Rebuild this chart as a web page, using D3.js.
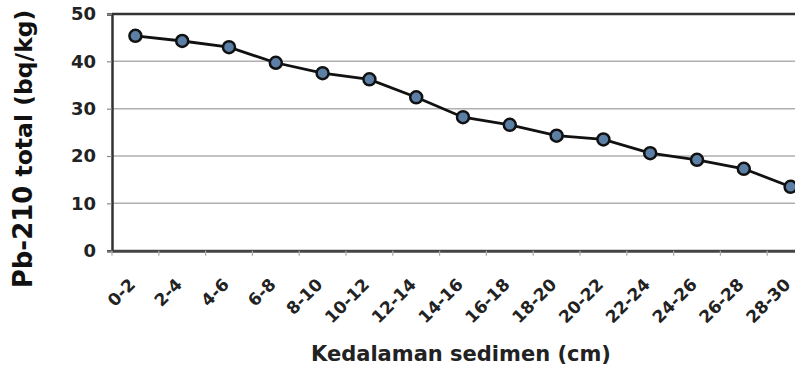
<!DOCTYPE html>
<html><head><meta charset="utf-8">
<script src="https://cdn.jsdelivr.net/npm/d3@7"></script>
<style>body{margin:0;background:#fff}svg{display:block}</style>
</head><body><svg id="c" width="795" height="370"></svg>
<script>
const categories = ["0-2","2-4","4-6","6-8","8-10","10-12","12-14","14-16","16-18","18-20","20-22","22-24","24-26","26-28","28-30"];
const values = [45.4,44.3,43.0,39.7,37.5,36.2,32.4,28.2,26.6,24.3,23.5,20.6,19.2,17.3,13.5];
const yTicks = [0,10,20,30,40,50];

const svg = d3.select("#c");
const L = 112, R = 814, T = 14, B = 250.7;
const font = "'DejaVu Sans', Verdana, sans-serif";
const x = d3.scaleBand().domain(categories).range([L, R]);
const y = d3.scaleLinear().domain([0, 50]).range([B, T]);

// gridlines
svg.append("g").selectAll("line").data(yTicks.filter(d => d > 0 && d < 50)).join("line")
  .attr("x1", L).attr("x2", R).attr("y1", d => y(d)).attr("y2", d => y(d))
  .attr("stroke", "#b0b0b0").attr("stroke-width", 1.5);

// top border
svg.append("line").attr("x1", L).attr("x2", R).attr("y1", y(50)).attr("y2", y(50))
  .attr("stroke", "#333").attr("stroke-width", 2.5);

// y axis
const ya = svg.append("g").attr("transform", `translate(${L},0)`)
  .call(d3.axisLeft(y).tickValues(yTicks).tickSize(5).tickPadding(11));
ya.select(".domain").attr("stroke", "#333").attr("stroke-width", 2.5);
ya.selectAll(".tick line").attr("stroke", "#888").attr("stroke-width", 1.2);
ya.selectAll("text").attr("font-family", font).attr("font-weight", "bold")
  .attr("font-size", 18).attr("fill", "#222");

// x axis
const xa = svg.append("g").attr("transform", `translate(0,${B})`)
  .call(d3.axisBottom(x).tickSize(0).tickPadding(0));
xa.select(".domain").attr("stroke", "#444").attr("stroke-width", 3);
xa.selectAll(".tick text")
  .attr("font-family", font).attr("font-weight", "bold").attr("font-size", 17).attr("fill", "#222")
  .attr("text-anchor", "end").attr("dy", 0)
  .attr("transform", "translate(1,35) rotate(-45)");
// boundary ticks
svg.append("g").selectAll("line").data(categories).join("line")
  .attr("x1", d => x(d)).attr("x2", d => x(d)).attr("y1", B).attr("y2", B + 5)
  .attr("stroke", "#aaa").attr("stroke-width", 1.2);

// line + markers
const cx = d => x(d) + x.bandwidth() / 2;
const pts = categories.map((c, i) => [cx(c), y(values[i])]);
svg.append("path").datum(pts).attr("d", d3.line())
  .attr("fill", "none").attr("stroke", "#111").attr("stroke-width", 2.8);
svg.append("g").selectAll("circle").data(pts).join("circle")
  .attr("cx", d => d[0]).attr("cy", d => d[1]).attr("r", 6)
  .attr("fill", "#5c7fa6").attr("stroke", "#111").attr("stroke-width", 2.5);

// axis titles
svg.append("text").attr("x", 461).attr("y", 361).attr("text-anchor", "middle")
  .attr("font-family", font).attr("font-weight", "bold").attr("font-size", 21).attr("fill", "#222")
  .text("Kedalaman sedimen (cm)");
const yt = svg.append("text").attr("transform", "translate(32,149) rotate(-90)")
  .attr("text-anchor", "middle").attr("font-family", font).attr("font-weight", "bold").attr("fill", "#111");
yt.append("tspan").attr("font-size", 26).text("Pb-210 ");
yt.append("tspan").attr("font-size", 23.5).text("total (bq/kg)");
</script></body></html>
